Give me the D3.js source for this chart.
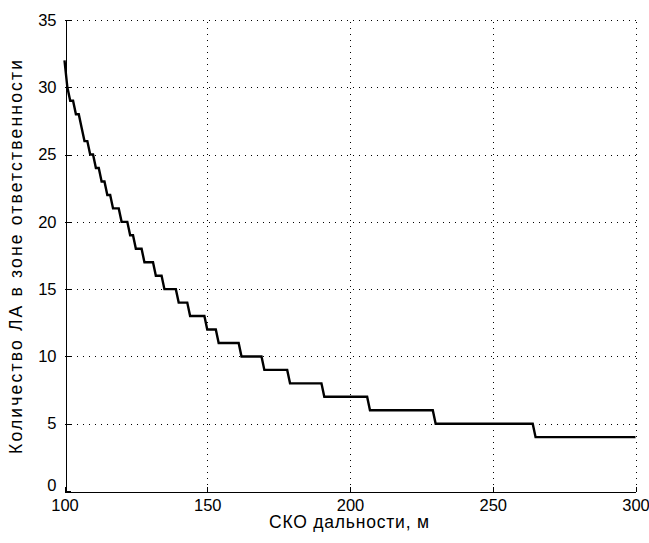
<!DOCTYPE html>
<html>
<head>
<meta charset="utf-8">
<script src="https://cdn.jsdelivr.net/npm/d3@7"></script>
<style>
  html, body { margin: 0; padding: 0; background: #fff; }
  svg { display: block; }
  text { font-family: "Liberation Sans", Arial, sans-serif; fill: #000; }
</style>
</head>
<body>
<svg id="chart" width="649" height="543"></svg>
<script>
const sampleX = [100, 101, 102, 103, 104, 105, 106, 107, 108, 109, 110, 111, 112, 113, 114, 115, 116, 117, 119,
                 120, 122, 123, 124, 125, 127, 128, 131, 132, 134, 135, 139, 140, 143, 144, 149, 150, 153,
                 154, 161, 162, 169, 170, 178, 179, 190, 191, 206, 207, 229, 230, 264, 265, 300];
const counts  = [32, 30, 29, 29, 28, 28, 27, 26, 26, 25, 25, 24, 24, 23, 23, 22, 22, 21, 21,
                 20, 20, 19, 19, 18, 18, 17, 17, 16, 16, 15, 15, 14, 14, 13, 13, 12, 12,
                 11, 11, 10, 10, 9, 9, 8, 8, 7, 7, 6, 6, 5, 5, 4, 4];
const xTicks = [100, 150, 200, 250, 300];
const yTicks = [0, 5, 10, 15, 20, 25, 30, 35];
const xLabel = "СКО дальности, м";
const yLabel = "Количество ЛА в зоне ответственности";

// ---- layout ----
const svg = d3.select("#chart");
const L = 64.5, R = 635.5, T = 20, B = 491;
const x = d3.scaleLinear().domain([100, 300]).range([L, R]);
const y = d3.scaleLinear().domain([0, 35]).range([B, T]);

// grid (dotted)
const grid = svg.append("g").attr("stroke", "#000").attr("stroke-width", 1)
  .attr("stroke-dasharray", "1,5").attr("shape-rendering", "crispEdges");
xTicks.filter(d => d !== 100).forEach(d => {
  grid.append("line").attr("x1", Math.round(x(d)) + 0.5).attr("x2", Math.round(x(d)) + 0.5)
    .attr("y1", B).attr("y2", T);
});
yTicks.filter(d => d !== 0).forEach(d => {
  grid.append("line").attr("y1", Math.round(y(d)) + 0.5).attr("y2", Math.round(y(d)) + 0.5)
    .attr("x1", L).attr("x2", R);
});

// axes
const xAxis = d3.axisBottom(x).tickValues(xTicks).tickSizeInner(-5).tickSizeOuter(0).tickPadding(8);
const yAxis = d3.axisLeft(y).tickValues(yTicks).tickSizeInner(-5).tickSizeOuter(0).tickPadding(9);
const gx = svg.append("g").attr("transform", `translate(0,${Math.round(B) + 0.5})`).call(xAxis);
const gy = svg.append("g").attr("transform", `translate(${Math.round(L) + 0.5},0)`).call(yAxis);
[gx, gy].forEach(g => {
  g.select(".domain").attr("stroke", "#000").attr("shape-rendering", "crispEdges");
  g.selectAll(".tick line").attr("stroke", "#000").attr("shape-rendering", "crispEdges");
  g.selectAll(".tick text").attr("font-size", 16.5).attr("font-family", "Liberation Sans, Arial, sans-serif").attr("fill", "#000");
});
gx.selectAll(".tick text").attr("dy", "0.68em");
// lift the "0" label slightly so it clears the "100" label (as in the reference)
gy.selectAll(".tick text").filter(d => d === 0).attr("dy", "-0.02em");

// curve
const pts = sampleX.map((d, i) => [d, counts[i]]);
const line = d3.line().x(d => x(d[0])).y(d => y(d[1])).curve(d3.curveLinear);
svg.append("path").datum(pts).attr("d", line)
  .attr("fill", "none").attr("stroke", "#000").attr("stroke-width", 2.4)
  .attr("stroke-linejoin", "miter");

// labels
svg.append("text").attr("x", 349).attr("y", 528).attr("text-anchor", "middle")
  .attr("font-size", 17.5).attr("textLength", 160).attr("lengthAdjust", "spacing").text(xLabel);
svg.append("text").attr("transform", `translate(22,257) rotate(-90)`)
  .attr("text-anchor", "middle").attr("font-size", 17.5)
  .attr("textLength", 394).attr("lengthAdjust", "spacing").text(yLabel);
</script>
</body>
</html>
